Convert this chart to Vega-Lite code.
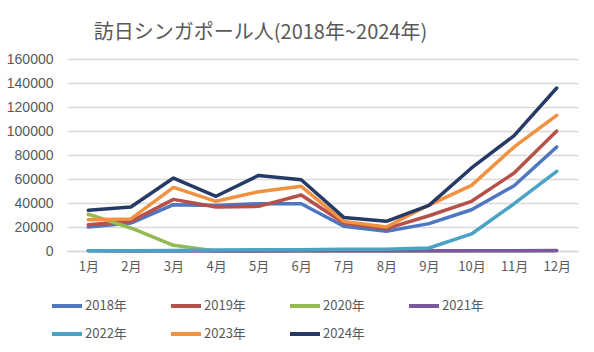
{
  "$schema": "https://vega.github.io/schema/vega-lite/v6.json",
  "autosize": "none",
  "width": 511,
  "height": 192,
  "padding": {"left": 67, "top": 59, "right": 16, "bottom": 101},
  "background": "white",
  "config": {
    "view": {"stroke": null},
    "font": "Noto Sans CJK JP",
    "text": {"font": "Noto Sans CJK JP"}
  },
  "title": {
    "text": "訪日シンガポール人(2018年~2024年)",
    "font": "Noto Sans CJK JP",
    "fontSize": 20,
    "fontWeight": "normal",
    "color": "#595959",
    "anchor": "middle",
    "dx": -62,
    "dy": 3,
    "offset": 12
  },
  "data": {
    "values": [
      {"month": "1月", "year": "2018年", "value": 20000},
      {"month": "2月", "year": "2018年", "value": 23300},
      {"month": "3月", "year": "2018年", "value": 38600},
      {"month": "4月", "year": "2018年", "value": 38000},
      {"month": "5月", "year": "2018年", "value": 39400},
      {"month": "6月", "year": "2018年", "value": 39400},
      {"month": "7月", "year": "2018年", "value": 20600},
      {"month": "8月", "year": "2018年", "value": 16400},
      {"month": "9月", "year": "2018年", "value": 22800},
      {"month": "10月", "year": "2018年", "value": 34400},
      {"month": "11月", "year": "2018年", "value": 54400},
      {"month": "12月", "year": "2018年", "value": 86700},
      {"month": "1月", "year": "2019年", "value": 21900},
      {"month": "2月", "year": "2019年", "value": 24700},
      {"month": "3月", "year": "2019年", "value": 43000},
      {"month": "4月", "year": "2019年", "value": 36700},
      {"month": "5月", "year": "2019年", "value": 37200},
      {"month": "6月", "year": "2019年", "value": 46700},
      {"month": "7月", "year": "2019年", "value": 23300},
      {"month": "8月", "year": "2019年", "value": 18600},
      {"month": "9月", "year": "2019年", "value": 29400},
      {"month": "10月", "year": "2019年", "value": 41400},
      {"month": "11月", "year": "2019年", "value": 65000},
      {"month": "12月", "year": "2019年", "value": 100000},
      {"month": "1月", "year": "2020年", "value": 30600},
      {"month": "2月", "year": "2020年", "value": 19200},
      {"month": "3月", "year": "2020年", "value": 4700},
      {"month": "4月", "year": "2020年", "value": 100},
      {"month": "5月", "year": "2020年", "value": 80},
      {"month": "6月", "year": "2020年", "value": 100},
      {"month": "7月", "year": "2020年", "value": 100},
      {"month": "8月", "year": "2020年", "value": 100},
      {"month": "9月", "year": "2020年", "value": 100},
      {"month": "10月", "year": "2020年", "value": 200},
      {"month": "11月", "year": "2020年", "value": 300},
      {"month": "12月", "year": "2020年", "value": 200},
      {"month": "1月", "year": "2021年", "value": 200},
      {"month": "2月", "year": "2021年", "value": 100},
      {"month": "3月", "year": "2021年", "value": 100},
      {"month": "4月", "year": "2021年", "value": 100},
      {"month": "5月", "year": "2021年", "value": 100},
      {"month": "6月", "year": "2021年", "value": 200},
      {"month": "7月", "year": "2021年", "value": 300},
      {"month": "8月", "year": "2021年", "value": 300},
      {"month": "9月", "year": "2021年", "value": 200},
      {"month": "10月", "year": "2021年", "value": 200},
      {"month": "11月", "year": "2021年", "value": 300},
      {"month": "12月", "year": "2021年", "value": 400},
      {"month": "1月", "year": "2022年", "value": 300},
      {"month": "2月", "year": "2022年", "value": 300},
      {"month": "3月", "year": "2022年", "value": 500},
      {"month": "4月", "year": "2022年", "value": 900},
      {"month": "5月", "year": "2022年", "value": 1100},
      {"month": "6月", "year": "2022年", "value": 1000},
      {"month": "7月", "year": "2022年", "value": 1400},
      {"month": "8月", "year": "2022年", "value": 1500},
      {"month": "9月", "year": "2022年", "value": 2500},
      {"month": "10月", "year": "2022年", "value": 14200},
      {"month": "11月", "year": "2022年", "value": 39400},
      {"month": "12月", "year": "2022年", "value": 66400},
      {"month": "1月", "year": "2023年", "value": 26100},
      {"month": "2月", "year": "2023年", "value": 26700},
      {"month": "3月", "year": "2023年", "value": 53000},
      {"month": "4月", "year": "2023年", "value": 41400},
      {"month": "5月", "year": "2023年", "value": 49400},
      {"month": "6月", "year": "2023年", "value": 53900},
      {"month": "7月", "year": "2023年", "value": 24700},
      {"month": "8月", "year": "2023年", "value": 20000},
      {"month": "9月", "year": "2023年", "value": 38300},
      {"month": "10月", "year": "2023年", "value": 54700},
      {"month": "11月", "year": "2023年", "value": 86700},
      {"month": "12月", "year": "2023年", "value": 113100},
      {"month": "1月", "year": "2024年", "value": 33900},
      {"month": "2月", "year": "2024年", "value": 36700},
      {"month": "3月", "year": "2024年", "value": 60800},
      {"month": "4月", "year": "2024年", "value": 45600},
      {"month": "5月", "year": "2024年", "value": 63000},
      {"month": "6月", "year": "2024年", "value": 59400},
      {"month": "7月", "year": "2024年", "value": 28000},
      {"month": "8月", "year": "2024年", "value": 24700},
      {"month": "9月", "year": "2024年", "value": 38000},
      {"month": "10月", "year": "2024年", "value": 69200},
      {"month": "11月", "year": "2024年", "value": 96100},
      {"month": "12月", "year": "2024年", "value": 135800}
    ]
  },
  "mark": {"type": "line", "strokeWidth": 3.5, "strokeCap": "round", "strokeJoin": "round"},
  "encoding": {
    "x": {
      "field": "month",
      "type": "ordinal",
      "sort": ["1月","2月","3月","4月","5月","6月","7月","8月","9月","10月","11月","12月"],
      "scale": {"type": "point", "padding": 0.5},
      "axis": {
        "title": null,
        "labelAngle": 0,
        "labelFont": "Noto Sans CJK JP",
        "labelFontSize": 13,
        "labelColor": "#595959",
        "labelPadding": 9,
        "ticks": false,
        "domain": true,
        "domainColor": "#d9d9d9",
        "domainWidth": 1.5,
        "grid": false
      }
    },
    "y": {
      "field": "value",
      "type": "quantitative",
      "scale": {"domain": [0, 160000], "nice": false},
      "axis": {
        "title": null,
        "values": [0, 20000, 40000, 60000, 80000, 100000, 120000, 140000, 160000],
        "format": "d",
        "labelFont": "Liberation Sans",
        "labelFontSize": 14,
        "labelColor": "#595959",
        "labelPadding": 14,
        "ticks": false,
        "domain": false,
        "grid": true,
        "gridColor": "#d9d9d9",
        "gridWidth": 1.5
      }
    },
    "color": {
      "field": "year",
      "type": "nominal",
      "scale": {
        "domain": ["2018年","2019年","2020年","2021年","2022年","2023年","2024年"],
        "range": ["#4F76C0","#B5504B","#94BB52","#7A57A0","#4AA3C4","#F0923F","#263A66"]
      },
      "legend": {
        "title": null,
        "orient": "none",
        "legendX": -17,
        "legendY": 230,
        "direction": "horizontal",
        "columns": 4,
        "gridAlign": "all",
        "symbolType": "stroke",
        "symbolSize": 900,
        "symbolStrokeWidth": 4,
        "labelFont": "Noto Sans CJK JP",
        "labelFontSize": 13,
        "labelColor": "#595959",
        "labelOffset": 1,
        "columnPadding": 36,
        "rowPadding": 3
      }
    }
  }
}
